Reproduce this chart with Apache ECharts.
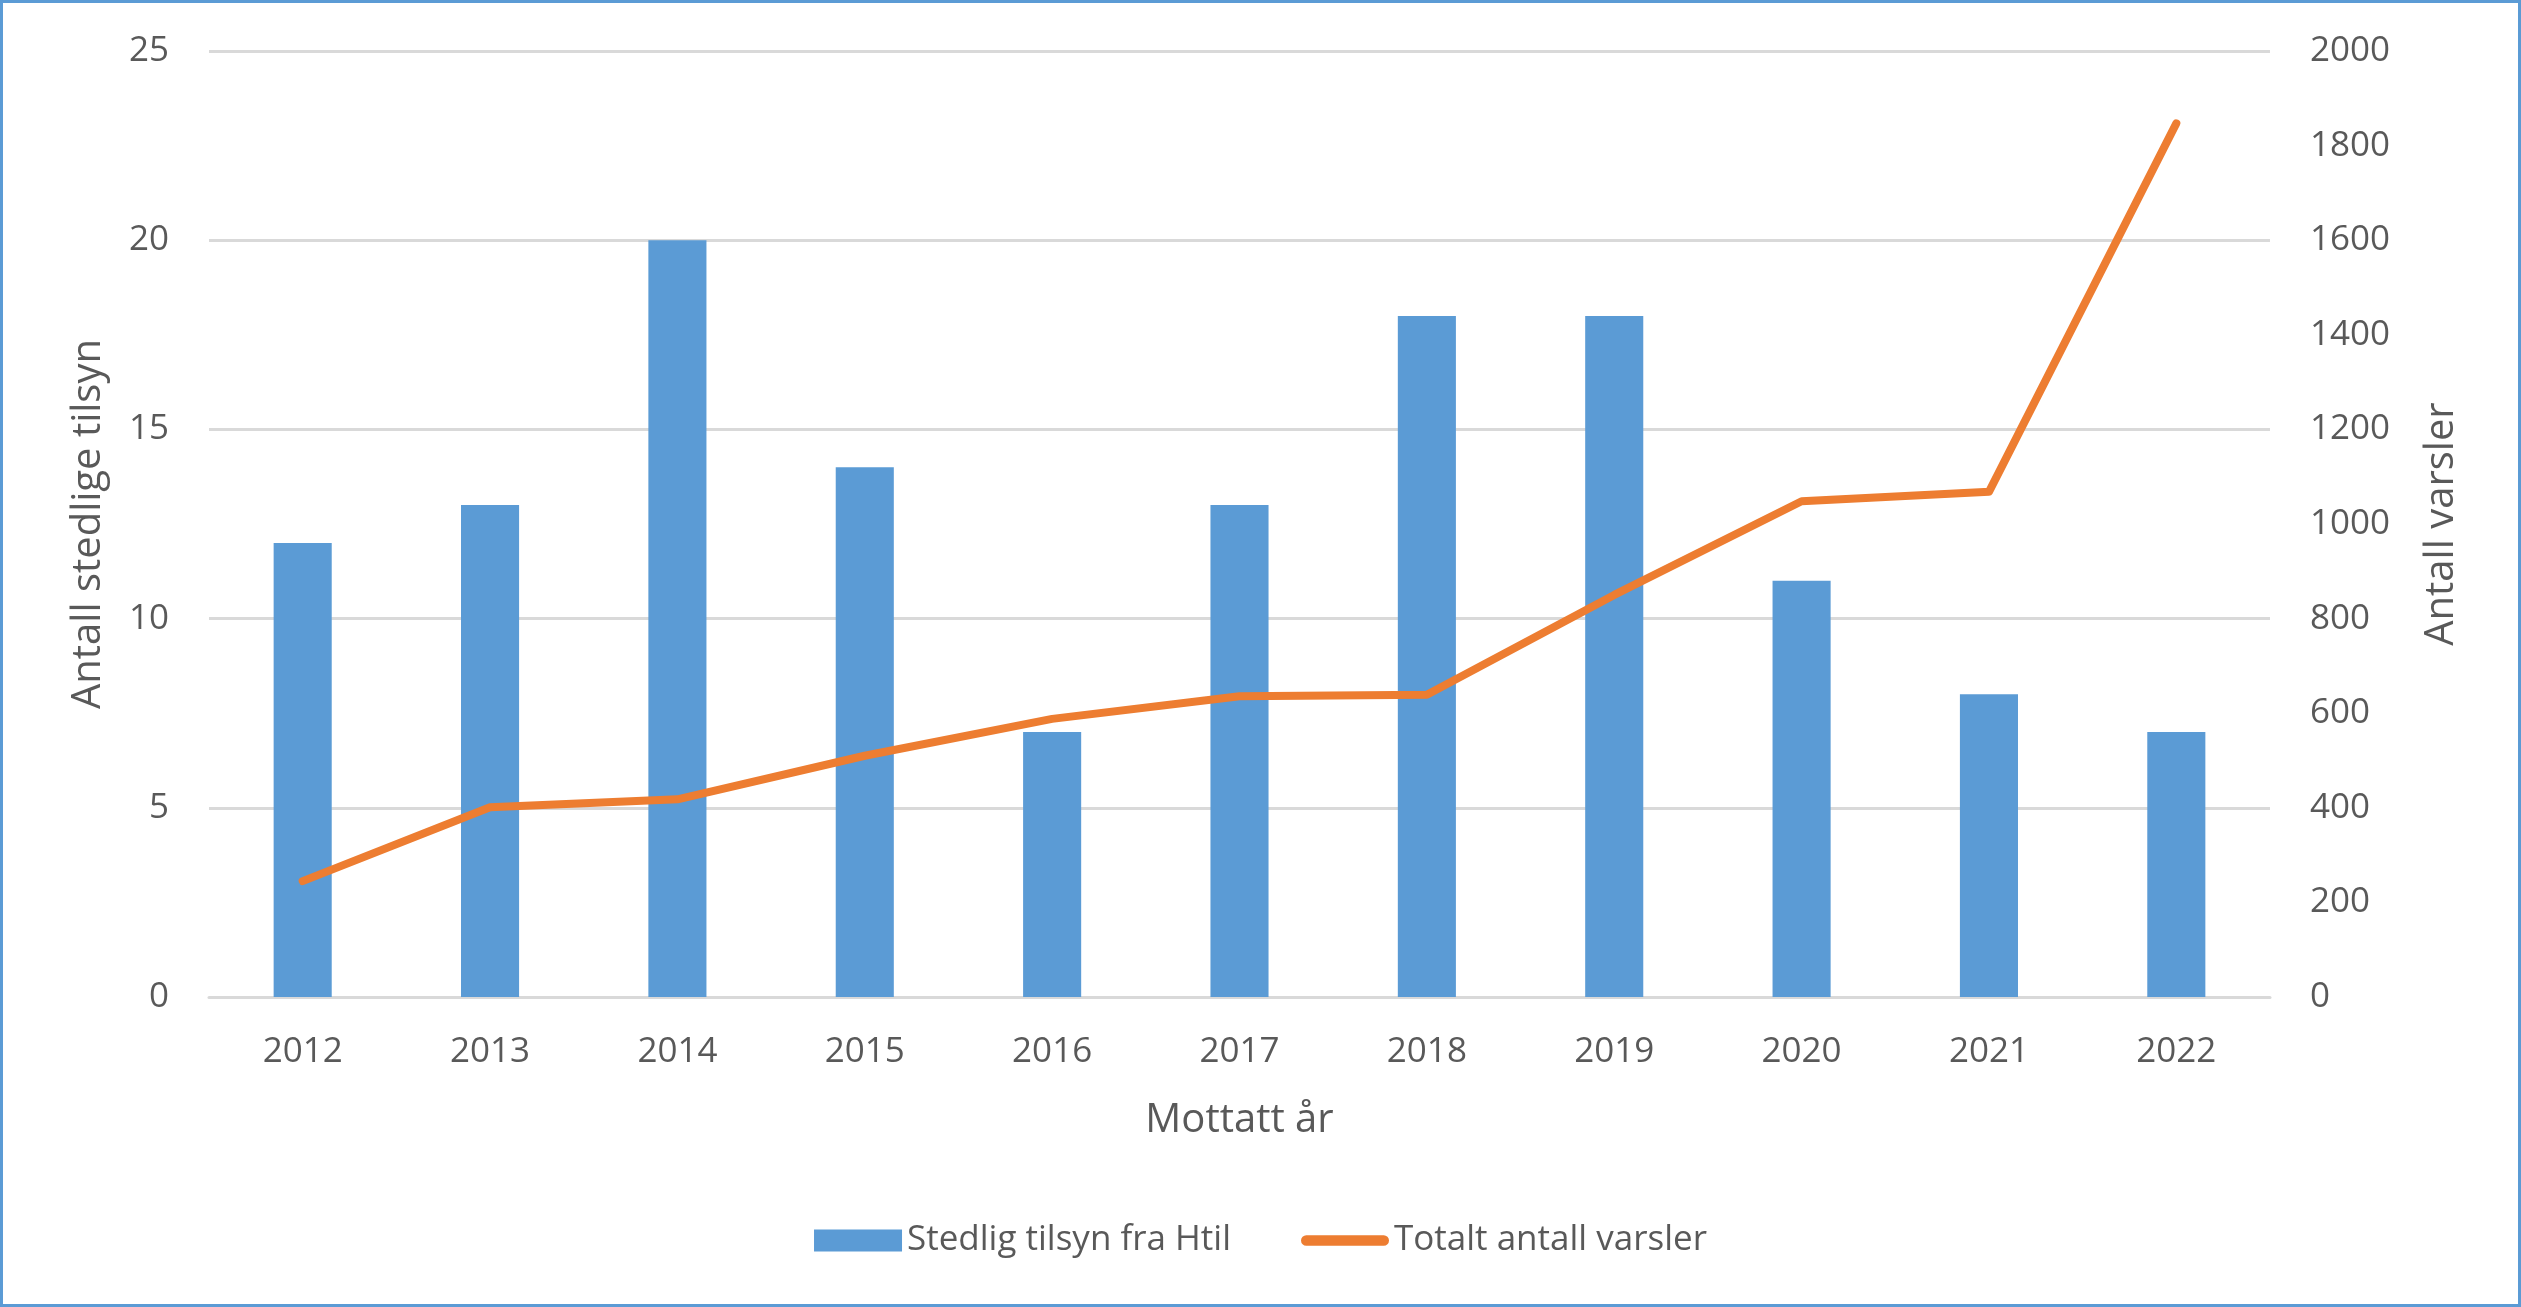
<!DOCTYPE html>
<html>
<head>
<meta charset="utf-8">
<script src="https://cdn.jsdelivr.net/npm/echarts@6/dist/echarts.min.js"></script>
<style>
html,body{margin:0;padding:0;background:#fff;}
#frame{position:absolute;left:0;top:0;width:2521px;height:1307px;box-sizing:border-box;border:3px solid #5B9BD5;}
#chart{position:absolute;left:0;top:0;width:2521px;height:1307px;}
</style>
</head>
<body>
<div id="chart"></div>
<div id="frame"></div>
<script>
const years = ['2012','2013','2014','2015','2016','2017','2018','2019','2020','2021','2022'];
const stedligTilsyn = [12, 13, 20, 14, 7, 13, 18, 18, 11, 8, 7];
const totaltVarsler = [245, 401, 418, 510, 588, 636, 639, 850, 1048, 1068, 1847];

const font = '"Open Sans", "Noto Sans", sans-serif';
const txt = '#595959';
const chart = echarts.init(document.getElementById('chart'));
chart.setOption({
  backgroundColor: '#fff',
  animation: false,
  textStyle: { fontFamily: font, color: txt },
  grid: { left: 209, right: 251, top: 51, bottom: 310, containLabel: false },
  legend: {
    bottom: 44,
    left: 'center',
    itemGap: 70,
    itemWidth: 88,
    itemHeight: 22,
    textStyle: { fontSize: 35, color: txt, fontFamily: font },
    data: [
      { name: 'Stedlig tilsyn fra Htil', icon: 'rect' },
      { name: 'Totalt antall varsler', icon: 'path://M6,0 L94,0 A6,6 0 0 1 94,12 L6,12 A6,6 0 0 1 6,0 Z' }
    ]
  },
  xAxis: {
    type: 'category',
    data: years,
    name: 'Mottatt år',
    nameLocation: 'middle',
    nameGap: 104,
    nameTextStyle: { fontSize: 40, color: txt },
    axisLine: { show: true, lineStyle: { color: '#D9D9D9', width: 3 } },
    axisTick: { show: false },
    axisLabel: { fontSize: 35, color: txt, margin: 38 }
  },
  yAxis: [
    {
      type: 'value', min: 0, max: 25, interval: 5,
      name: 'Antall stedlige tilsyn',
      nameLocation: 'middle', nameRotate: 90, nameGap: 100,
      nameTextStyle: { fontSize: 40, color: txt },
      axisLine: { show: false }, axisTick: { show: false },
      axisLabel: { fontSize: 35, color: txt, margin: 40 },
      splitLine: { lineStyle: { color: '#D9D9D9', width: 3 } }
    },
    {
      type: 'value', min: 0, max: 2000, interval: 200,
      name: 'Antall varsler',
      nameLocation: 'middle', nameRotate: 90, nameGap: 152,
      nameTextStyle: { fontSize: 40, color: txt },
      axisLine: { show: false }, axisTick: { show: false },
      axisLabel: { fontSize: 35, color: txt, margin: 40, formatter: v => String(v) },
      splitLine: { show: false }
    }
  ],
  series: [
    {
      name: 'Stedlig tilsyn fra Htil',
      type: 'bar',
      yAxisIndex: 0,
      data: stedligTilsyn,
      barWidth: '31%',
      itemStyle: { color: '#5B9BD5' }
    },
    {
      name: 'Totalt antall varsler',
      type: 'line',
      yAxisIndex: 1,
      data: totaltVarsler,
      symbol: 'none',
      lineStyle: { color: '#ED7D31', width: 8, cap: 'round', join: 'round' },
      itemStyle: { color: '#ED7D31' }
    }
  ]
});
</script>
</body>
</html>
